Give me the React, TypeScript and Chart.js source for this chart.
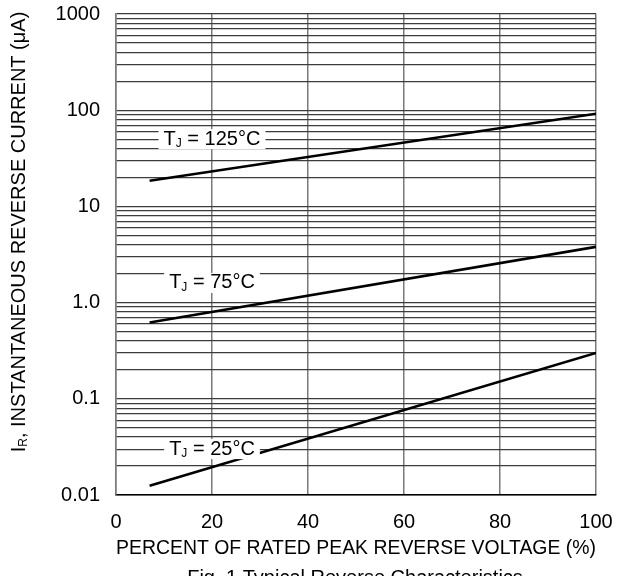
import { useEffect, useRef } from 'react'
import { Chart, registerables } from 'chart.js'

Chart.register(...registerables)

// curve end points (straight lines on log scale)
const percentRated = [7, 100]
const tj125 = [18.5, 92]
const tj75 = [0.62, 3.8]
const tj25 = [0.0125, 0.3]

// labels on the curves
const curveNames = ['125°C', '75°C', '25°C']
const labelX = [20, 20, 20]
const labelY = [50, 1.6, 0.03]

const decades = [0.01, 0.1, 1, 10, 100, 1000]
const decadeLabels = ['0.01', '0.1', '1.0', '10', '100', '1000']
const xTicks = [0, 20, 40, 60, 80, 100]

const FONT = '"Liberation Sans", Arial, sans-serif'
const SIZE = 20

// draws text with a subscript part: main + sub + rest, starting at x (left aligned)
function subText(ctx: CanvasRenderingContext2D, x: number, y: number, main: string, sub: string, rest: string, size: number) {
  ctx.font = `${size}px ${FONT}`
  ctx.fillText(main, x, y)
  let w = ctx.measureText(main).width
  ctx.font = `${Math.round(size * 0.62)}px ${FONT}`
  ctx.fillText(sub, x + w, y + size * 0.22)
  w += ctx.measureText(sub).width
  ctx.font = `${size}px ${FONT}`
  ctx.fillText(rest, x + w, y)
}

function subWidth(ctx: CanvasRenderingContext2D, main: string, sub: string, rest: string, size: number) {
  ctx.font = `${size}px ${FONT}`
  let w = ctx.measureText(main).width + ctx.measureText(rest).width
  ctx.font = `${Math.round(size * 0.62)}px ${FONT}`
  w += ctx.measureText(sub).width
  return w
}

const annotations = {
  id: 'annotations',
  afterDatasetsDraw(chart: Chart) {
    const { ctx, scales } = chart
    const x = scales.x
    const y = scales.y
    ctx.save()
    ctx.fillStyle = '#000'
    ctx.textBaseline = 'middle'
    ctx.textAlign = 'left'

    // curve labels on white boxes
    curveNames.forEach((name, i) => {
      const cx = x.getPixelForValue(labelX[i])
      const cy = y.getPixelForValue(labelY[i])
      const w = subWidth(ctx, 'T', 'J', ' = ' + name, SIZE)
      ctx.fillStyle = '#fff'
      ctx.fillRect(cx - w / 2 - 5, cy - 10, w + 10, 20)
      ctx.fillStyle = '#000'
      subText(ctx, cx - w / 2, cy, 'T', 'J', ' = ' + name, SIZE)
    })

    // y axis title, rotated
    const tw = subWidth(ctx, 'I', 'R', ', INSTANTANEOUS REVERSE CURRENT (μA)', SIZE)
    ctx.translate(19, 232)
    ctx.rotate(-Math.PI / 2)
    subText(ctx, -tw / 2, 0, 'I', 'R', ', INSTANTANEOUS REVERSE CURRENT (μA)', SIZE)
    ctx.restore()

    // caption (partly below the canvas edge)
    ctx.save()
    ctx.fillStyle = '#000'
    ctx.font = `${SIZE}px ${FONT}`
    ctx.textAlign = 'center'
    ctx.textBaseline = 'alphabetic'
    ctx.fillText('Fig. 1 Typical Reverse Characteristics', 355, 584)
    ctx.restore()
  },
}

export default function App() {
  const canvasRef = useRef<HTMLCanvasElement>(null)
  const chartRef = useRef<Chart | null>(null)

  useEffect(() => {
    if (!canvasRef.current) return
    chartRef.current?.destroy()

    const line = (data: number[]) => ({
      data: percentRated.map((p, i) => ({ x: p, y: data[i] })),
      borderColor: '#000',
      borderWidth: 2.6,
      pointRadius: 0,
      fill: false,
    })

    chartRef.current = new Chart(canvasRef.current, {
      type: 'line',
      data: {
        datasets: [line(tj125), line(tj75), line(tj25)],
      },
      plugins: [annotations],
      options: {
        animation: false,
        responsive: false,
        devicePixelRatio: 1,
        layout: { padding: { top: 14, right: 41, left: 0, bottom: 0 } },
        plugins: { legend: { display: false }, tooltip: { enabled: false } },
        scales: {
          x: {
            type: 'linear',
            min: 0,
            max: 100,
            afterBuildTicks: s => { s.ticks = xTicks.map(v => ({ value: v })) },
            afterFit: s => { s.height = 81; s.paddingLeft = 0; s.paddingRight = 0 },
            grid: { color: '#7a7a7a', lineWidth: 1.5, drawTicks: false },
            border: { display: true, color: '#000', width: 1.5 },
            ticks: { color: '#000', font: { family: FONT, size: SIZE }, padding: 15, maxRotation: 0 },
            title: {
              display: true,
              text: 'PERCENT OF RATED PEAK REVERSE VOLTAGE (%)',
              color: '#000',
              font: { family: FONT, size: SIZE },
              padding: { top: 0, bottom: 16 },
            },
          },
          y: {
            type: 'logarithmic',
            min: 0.01,
            max: 1000,
            afterBuildTicks: s => {
              const t: { value: number }[] = []
              decades.forEach((d, i) => {
                if (i === decades.length - 1) { t.push({ value: d }); return }
                for (let m = 1; m < 10; m++) t.push({ value: +(d * m).toPrecision(3) })
              })
              s.ticks = t
            },
            afterFit: s => { s.width = 116; s.paddingTop = 0; s.paddingBottom = 0 },
            grid: { color: '#3c3c3c', lineWidth: 1.2, drawTicks: false },
            border: { display: true, color: '#7a7a7a', width: 1.5 },
            ticks: {
              autoSkip: false,
              color: '#000',
              font: { family: FONT, size: SIZE },
              padding: 16,
              callback: v => {
                const i = decades.findIndex(d => Math.abs(d - Number(v)) / d < 1e-6)
                return i >= 0 ? decadeLabels[i] : ''
              },
            },
          },
        },
      },
    })

    return () => chartRef.current?.destroy()
  }, [])

  return (
    <div style={{ position: 'fixed', left: 0, top: 0, width: 637, height: 576, background: '#fff' }}>
      <canvas ref={canvasRef} width={637} height={576} style={{ width: 637, height: 576 }} />
    </div>
  )
}
